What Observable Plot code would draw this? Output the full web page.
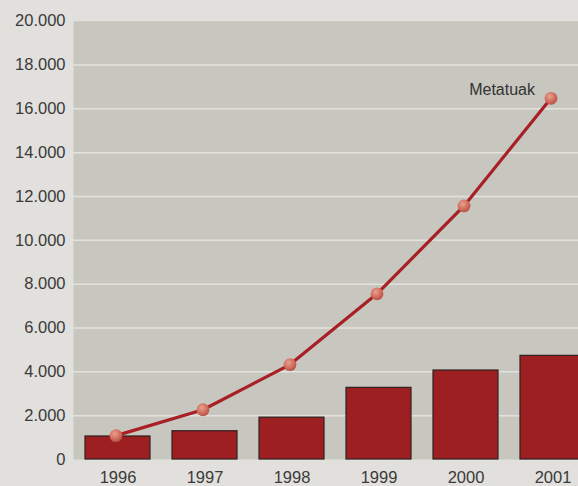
<!DOCTYPE html>
<html>
<head>
<meta charset="utf-8">
<script src="https://cdn.jsdelivr.net/npm/d3@7"></script>
<script src="https://cdn.jsdelivr.net/npm/@observablehq/plot@0.6"></script>
<style>
  html, body { margin: 0; padding: 0; background: #e1e0dc; overflow: hidden; width: 578px; height: 486px; }
  #chart { width: 578px; height: 486px; overflow: hidden; }
  #chart svg { display: block; max-width: none !important; }
</style>
</head>
<body>
<div id="chart"></div>
<script>
const years = ["1996", "1997", "1998", "1999", "2000", "2001"];
const barValues = [1050, 1290, 1910, 3270, 4060, 4730];
const lineValues = [1090, 2270, 4330, 7560, 11570, 16480];
const yTicks = [0, 2000, 4000, 6000, 8000, 10000, 12000, 14000, 16000, 18000, 20000];
const gridTicks = [2000, 4000, 6000, 8000, 10000, 12000, 14000, 16000, 18000];
const seriesLabel = "Metatuak";

const data = years.map((y, i) => ({year: y, bar: barValues[i], line: lineValues[i]}));
const fmt = d => d === 0 ? "0" : d3.format(",")(d).replace(/,/g, ".");
const font = "'Liberation Sans', Arial, sans-serif";

const chart = Plot.plot({
  width: 596,
  height: 500,
  marginLeft: 73,
  marginRight: 0,
  marginTop: 20.7,
  marginBottom: 41,
  style: {background: "transparent", fontFamily: font, fontSize: "16.5px", color: "#3a3a3a", overflow: "visible", maxWidth: "none"},
  x: {domain: years, paddingInner: 0.258, paddingOuter: 0.114, label: null},
  y: {domain: [0, 20000], label: null},
  marks: [
    Plot.frame({fill: "#c7c7bf", stroke: null}),
    Plot.gridY(gridTicks, {stroke: "#e3e3dd", strokeOpacity: 1, strokeWidth: 1.5}),
    Plot.axisY(yTicks, {tickSize: 0, tickPadding: 8, tickFormat: fmt, fill: "#3a3a3a", fontSize: 16.5, label: null}),
    Plot.axisX({tickSize: 0, tickPadding: 12, fill: "#3a3a3a", fontSize: 16.5, label: null}),
    Plot.barY(data, {x: "year", y: "bar", fill: "#9d1f21", stroke: "#2e2020", strokeWidth: 1.2}),
    Plot.line(data, {x: "year", y: "line", stroke: "#a81f25", strokeWidth: 3.2, dx: -2}),
    Plot.dot(data, {x: "year", y: "line", r: 6.4, fill: "url(#dotGrad)", stroke: "none", dx: -2}),
    Plot.text([data[data.length - 1]], {x: "year", y: "line", text: () => seriesLabel, textAnchor: "end", dx: -18, dy: -8, fill: "#333", fontSize: 16})
  ]
});

const svg = d3.select(chart);
const defs = svg.insert("defs", ":first-child");
const g = defs.append("radialGradient").attr("id", "dotGrad").attr("cx", "40%").attr("cy", "35%").attr("r", "65%");
g.append("stop").attr("offset", "0%").attr("stop-color", "#e9a091");
g.append("stop").attr("offset", "60%").attr("stop-color", "#d2705f");
g.append("stop").attr("offset", "100%").attr("stop-color", "#b9534a");

document.getElementById("chart").appendChild(chart);
</script>
</body>
</html>
